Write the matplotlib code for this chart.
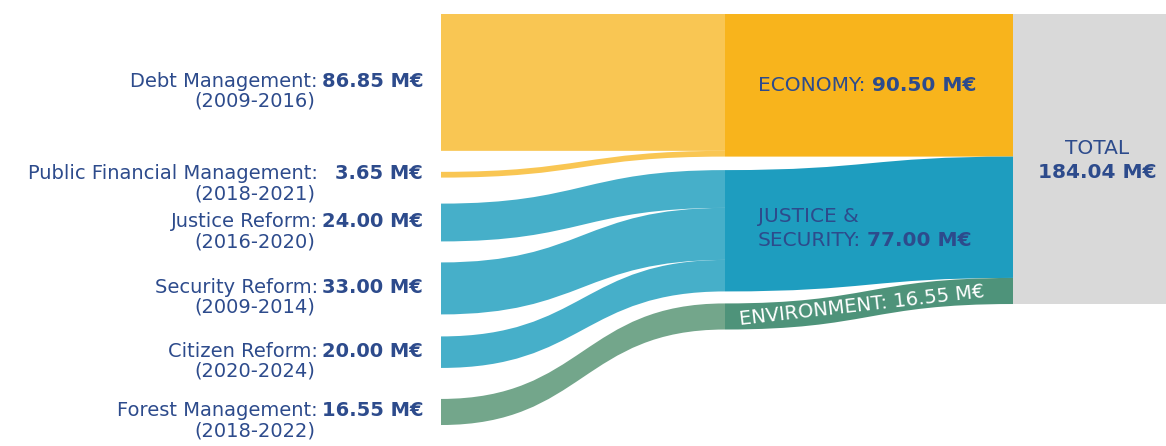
"""
Funding sankey - programmes -> sectors -> total
"""

import matplotlib
matplotlib.use("Agg")
import matplotlib.pyplot as plt
from matplotlib.path import Path
from matplotlib.patches import PathPatch

# programmes on the left
programs = ["Debt Management", "Public Financial Management", "Justice Reform",
            "Security Reform", "Citizen Reform", "Forest Management"]
periods = ["2009-2016", "2018-2021", "2016-2020", "2009-2014", "2020-2024", "2018-2022"]
amounts = [86.85, 3.65, 24.00, 33.00, 20.00, 16.55]
program_sector = [0, 0, 1, 1, 1, 2]

# sectors in the middle
sectors = ["ECONOMY", "JUSTICE &\nSECURITY", "ENVIRONMENT"]
sector_amounts = [90.50, 77.00, 16.55]
total_amount = 184.04

# layout (pixels, y goes down)
X_LEFT, X_MID, X_TOT, X_END = 441, 725, 1013, 1166
TOP = 14
HEIGHT = 290
left_gaps = [0, 21, 26, 21, 22, 31]
mid_gaps = [0, 13.5, 12]

light_cols = ["#f9c653", "#46afc9", "#73a68b"]
dark_cols = ["#f8b41c", "#1e9dbf", "#4e937a"]
TXT = "#2d4b8c"
FS = 14


def band(ax, x0, x1, t0, b0, t1, b1, color):
    """cubic s-shaped ribbon between two vertical spans"""
    xm = (x0 + x1) / 2
    verts = [(x0, t0), (xm, t0), (xm, t1), (x1, t1),
             (x1, b1), (xm, b1), (xm, b0), (x0, b0), (x0, t0)]
    codes = [Path.MOVETO, Path.CURVE4, Path.CURVE4, Path.CURVE4,
             Path.LINETO, Path.CURVE4, Path.CURVE4, Path.CURVE4, Path.CLOSEPOLY]
    ax.add_patch(PathPatch(Path(verts, codes), facecolor=color, edgecolor="none", lw=0))


def text_pair(ax, renderer, x, y, normal, bold, size):
    """normal text followed by a bold part on the same line"""
    t = ax.text(x, y, normal, ha="left", va="center", fontsize=size, color=TXT)
    bb = t.get_window_extent(renderer)
    x_end = ax.transData.inverted().transform((bb.x1, bb.y0))[0]
    ax.text(x_end + 6, y, bold, ha="left", va="center", fontsize=size,
            color=TXT, fontweight="bold")


def main():
    fig = plt.figure(figsize=(11.66, 4.46), dpi=100)
    ax = fig.add_axes([0, 0, 1, 1])
    ax.set_xlim(0, 1166)
    ax.set_ylim(446, 0)
    ax.axis("off")
    renderer = fig.canvas.get_renderer()

    k = HEIGHT / total_amount

    # left spans
    left_spans = []
    y = TOP
    for amt, gap in zip(amounts, left_gaps):
        y += gap
        left_spans.append((y, y + amt * k))
        y += amt * k

    # middle spans (left edge of sector ribbons)
    mid_spans = []
    y = TOP
    for amt, gap in zip(sector_amounts, mid_gaps):
        y += gap
        mid_spans.append((y, y + amt * k))
        y += amt * k

    # total spans (right edge of sector ribbons)
    tot_spans = []
    y = TOP
    for amt in sector_amounts:
        tot_spans.append((y, y + amt * k))
        y += amt * k

    # programme -> sector ribbons
    fill = [s[0] for s in mid_spans]
    for i, amt in enumerate(amounts):
        s = program_sector[i]
        t0, b0 = left_spans[i]
        t1 = fill[s]
        b1 = t1 + amt * k
        fill[s] = b1
        band(ax, X_LEFT, X_MID, t0, b0, t1, b1, light_cols[s])

    # sector -> total ribbons
    for s in range(len(sectors)):
        band(ax, X_MID, X_TOT, mid_spans[s][0], mid_spans[s][1],
             tot_spans[s][0], tot_spans[s][1], dark_cols[s])

    # total block
    ax.add_patch(plt.Rectangle((X_TOT, TOP), X_END - X_TOT, total_amount * k,
                               facecolor="#d9d9d9", edgecolor="none"))

    # left labels
    for i, name in enumerate(programs):
        c = (left_spans[i][0] + left_spans[i][1]) / 2 - 1
        ax.text(318, c, name + ":", ha="right", va="center", fontsize=FS, color=TXT)
        ax.text(423, c, f"{amounts[i]:.2f} M€", ha="right", va="center",
                fontsize=FS, color=TXT, fontweight="bold")
        ax.text(315, c + 20, f"({periods[i]})", ha="right", va="center",
                fontsize=FS, color=TXT)

    # sector labels
    c = (mid_spans[0][0] + mid_spans[0][1]) / 2
    text_pair(ax, renderer, 758, c, sectors[0] + ":", f"{sector_amounts[0]:.2f} M€", 14.5)

    c = (mid_spans[1][0] + mid_spans[1][1]) / 2
    first, second = sectors[1].split("\n")
    ax.text(758, c - 14, first, ha="left", va="center", fontsize=14.5, color=TXT)
    text_pair(ax, renderer, 758, c + 10, second + ":", f"{sector_amounts[1]:.2f} M€", 14.5)

    ax.text(862, 306, f"{sectors[2]}: {sector_amounts[2]:.2f} M€", ha="center",
            va="center", fontsize=14, color="white", rotation=6.5,
            rotation_mode="anchor")

    # total label
    c = TOP + total_amount * k / 2
    ax.text(1097, c - 11, "TOTAL", ha="center", va="center", fontsize=14.5, color=TXT)
    ax.text(1097, c + 13, f"{total_amount:.2f} M€", ha="center", va="center",
            fontsize=14.5, color=TXT, fontweight="bold")

    fig.savefig("out.png", dpi=100)
    print("Saved out.png")


if __name__ == "__main__":
    main()
